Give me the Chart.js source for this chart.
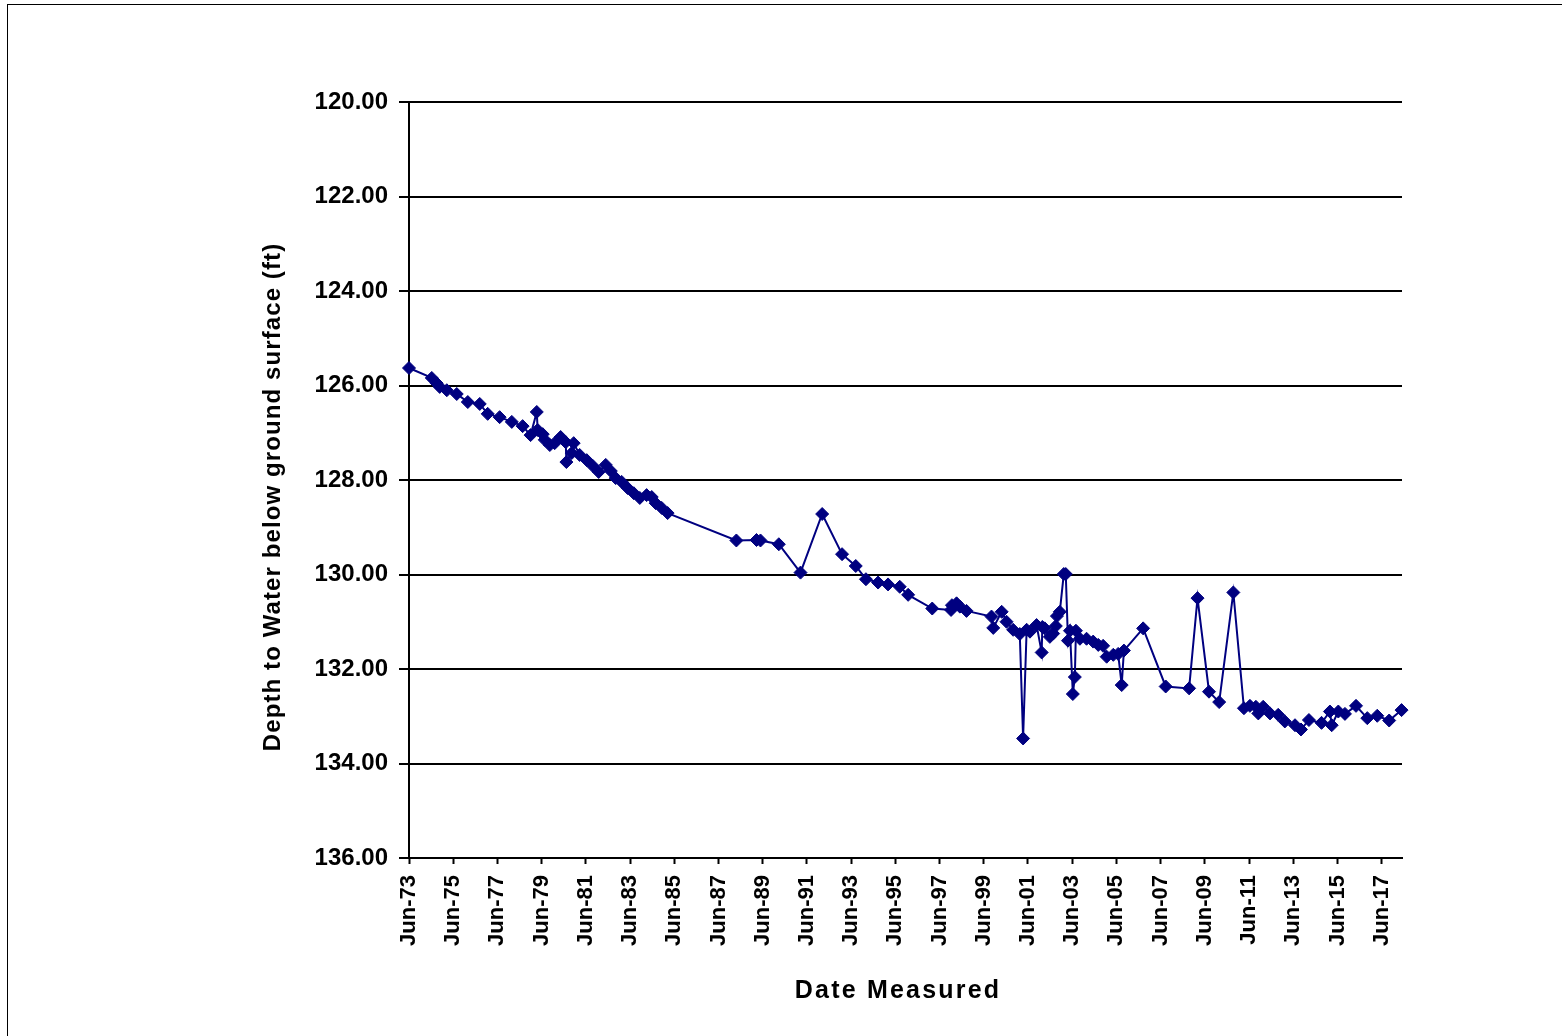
<!DOCTYPE html>
<html>
<head>
<meta charset="utf-8">
<title>Depth to Water</title>
<script src="https://cdn.jsdelivr.net/npm/chart.js@4.4.1/dist/chart.umd.min.js"></script>
<style>
    html, body { margin: 0; padding: 0; background: #fff; }
    #wrap { position: relative; width: 1562px; height: 1036px; overflow: hidden; }
    #frame { position: absolute; left: 7px; top: 4px; width: 1600px; height: 1100px; border: 1px solid #000; box-sizing: border-box; }
    canvas { position: absolute; left: 0; top: 0; }
</style>
</head>
<body>
<div id="wrap">
    <div id="frame"></div>
    <canvas id="depthChart" width="1562" height="1036"></canvas>
</div>
<script>
// --- data (decimal year, feet below surface) ---
const measuredYears = [
    1973.50, 1974.53, 1974.75, 1974.89, 1975.21, 1975.66, 1976.16, 1976.70, 1977.06, 1977.60,
    1978.15, 1978.64, 1979.00, 1979.28, 1979.32, 1979.55, 1979.64, 1979.87, 1980.09, 1980.36,
    1980.59, 1980.62, 1980.86, 1980.95, 1981.22, 1981.54, 1981.81, 1982.08, 1982.40, 1982.63,
    1982.85, 1983.12, 1983.39, 1983.67, 1983.94, 1984.25, 1984.48, 1984.66, 1984.93, 1985.20,
    1988.31, 1989.22, 1989.40, 1990.23, 1991.21, 1992.19, 1993.09, 1993.71, 1994.17, 1994.72,
    1995.17, 1995.70, 1996.08, 1997.17, 1998.02, 1998.06, 1998.27, 1998.42, 1998.72, 1999.85,
    1999.93, 2000.31, 2000.53, 2000.83, 2001.13, 2001.28, 2001.44, 2001.59, 2001.89, 2002.12,
    2002.15, 2002.26, 2002.49, 2002.64, 2002.76, 2002.81, 2002.94, 2003.12, 2003.21, 2003.31,
    2003.40, 2003.53, 2003.62, 2003.67, 2003.85, 2004.15, 2004.45, 2004.68, 2004.90, 2005.06,
    2005.36, 2005.58, 2005.74, 2005.84, 2006.71, 2007.73, 2008.79, 2009.17, 2009.69, 2010.15,
    2010.79, 2011.27, 2011.54, 2011.81, 2011.92, 2012.14, 2012.45, 2012.82, 2013.12, 2013.58,
    2013.85, 2014.21, 2014.78, 2015.16, 2015.24, 2015.54, 2015.84, 2016.34, 2016.85, 2017.30,
    2017.84, 2018.40
];
const depthFeet = [
    125.63, 125.84, 125.95, 126.03, 126.10, 126.18, 126.35, 126.39, 126.60, 126.67,
    126.77, 126.86, 127.05, 126.56, 126.94, 127.03, 127.15, 127.26, 127.22, 127.09,
    127.20, 127.62, 127.43, 127.22, 127.47, 127.58, 127.70, 127.83, 127.68, 127.81,
    127.96, 128.04, 128.17, 128.28, 128.38, 128.32, 128.36, 128.49, 128.59, 128.70,
    129.28, 129.27, 129.28, 129.36, 129.96, 128.72, 129.57, 129.82, 130.10, 130.17,
    130.21, 130.26, 130.43, 130.72, 130.75, 130.65, 130.61, 130.68, 130.77, 130.89,
    131.13, 130.79, 131.00, 131.17, 131.26, 133.47, 131.17, 131.21, 131.07, 131.65,
    131.11, 131.14, 131.32, 131.25, 131.09, 130.88, 130.79, 129.99, 129.99, 131.40,
    131.19, 132.53, 132.17, 131.19, 131.36, 131.36, 131.42, 131.49, 131.51, 131.74,
    131.70, 131.68, 132.34, 131.61, 131.14, 132.37, 132.41, 130.50, 132.48, 132.70,
    130.38, 132.83, 132.78, 132.80, 132.94, 132.80, 132.94, 132.97, 133.11, 133.19,
    133.28, 133.08, 133.14, 132.90, 133.19, 132.90, 132.95, 132.78, 133.04, 132.99,
    133.09, 132.87
];

// x axis ticks: every second June
const tickYears = [
    1973.5, 1975.5, 1977.5, 1979.5, 1981.5, 1983.5, 1985.5, 1987.5, 1989.5, 1991.5, 1993.5, 1995.5,
    1997.5, 1999.5, 2001.5, 2003.5, 2005.5, 2007.5, 2009.5, 2011.5, 2013.5, 2015.5, 2017.5
];
const tickLabels = [
    'Jun-73', 'Jun-75', 'Jun-77', 'Jun-79', 'Jun-81', 'Jun-83', 'Jun-85', 'Jun-87', 'Jun-89', 'Jun-91', 'Jun-93', 'Jun-95',
    'Jun-97', 'Jun-99', 'Jun-01', 'Jun-03', 'Jun-05', 'Jun-07', 'Jun-09', 'Jun-11', 'Jun-13', 'Jun-15', 'Jun-17'
];

const xTitle = 'Date Measured';
const yTitle = 'Depth to Water below ground surface (ft)';

const navy = '#000080';
const tickFont = '"Liberation Sans", Arial, sans-serif';

// axis titles drawn by hand so they sit where the original puts them
const axisTitles = {
    id: 'axisTitles',
    afterDraw(chart) {
        const ctx = chart.ctx;
        ctx.save();
        ctx.fillStyle = '#000';
        ctx.textAlign = 'center';
        ctx.textBaseline = 'alphabetic';
        ctx.font = 'bold 25px ' + tickFont;
        ctx.letterSpacing = '2.2px';
        ctx.fillText(xTitle, 898, 998);
        ctx.font = 'bold 24px ' + tickFont;
        ctx.letterSpacing = '1.1px';
        ctx.translate(279.5, 497);
        ctx.rotate(-Math.PI / 2);
        ctx.fillText(yTitle, 0, 0);
        ctx.restore();
    }
};

new Chart(document.getElementById('depthChart'), {
    type: 'line',
    data: {
        datasets: [{
            label: 'Depth to water',
            data: measuredYears.map((yr, i) => ({ x: yr, y: depthFeet[i] })),
            borderColor: navy,
            borderWidth: 2,
            pointStyle: 'rectRot',
            pointRadius: 6.5,
            pointBackgroundColor: navy,
            pointBorderColor: navy,
            pointBorderWidth: 1,
            tension: 0,
            clip: false
        }]
    },
    options: {
        responsive: false,
        animation: false,
        devicePixelRatio: 1,
        layout: { padding: { left: 200, top: 102, right: 160, bottom: 0 } },
        plugins: {
            legend: { display: false },
            tooltip: { enabled: false }
        },
        scales: {
            x: {
                type: 'linear',
                min: 1973.5,
                max: 2018.42,
                afterBuildTicks: (scale) => { scale.ticks = tickYears.map(v => ({ value: v })); },
                afterFit: (scale) => { scale.height = 178; },
                grid: { drawOnChartArea: false, drawTicks: true, tickLength: 6, tickWidth: 2, tickColor: '#000' },
                border: { display: true, color: '#000', width: 2 },
                ticks: {
                    autoSkip: false,
                    minRotation: 90,
                    maxRotation: 90,
                    padding: 11,
                    color: '#000',
                    font: { family: tickFont, size: 22, weight: 'bold' },
                    callback: (value, index) => tickLabels[index]
                }
            },
            y: {
                reverse: true,
                min: 120,
                max: 136,
                afterFit: (scale) => { scale.width = 209; },
                grid: { color: '#000', lineWidth: 2, tickLength: 10, tickWidth: 2, tickColor: '#000' },
                border: { display: true, color: '#000', width: 2 },
                ticks: {
                    stepSize: 2,
                    padding: 11,
                    color: '#000',
                    font: { family: tickFont, size: 24, weight: 'bold' },
                    callback: (value) => value.toFixed(2)
                }
            }
        }
    },
    plugins: [axisTitles]
});
</script>
</body>
</html>
